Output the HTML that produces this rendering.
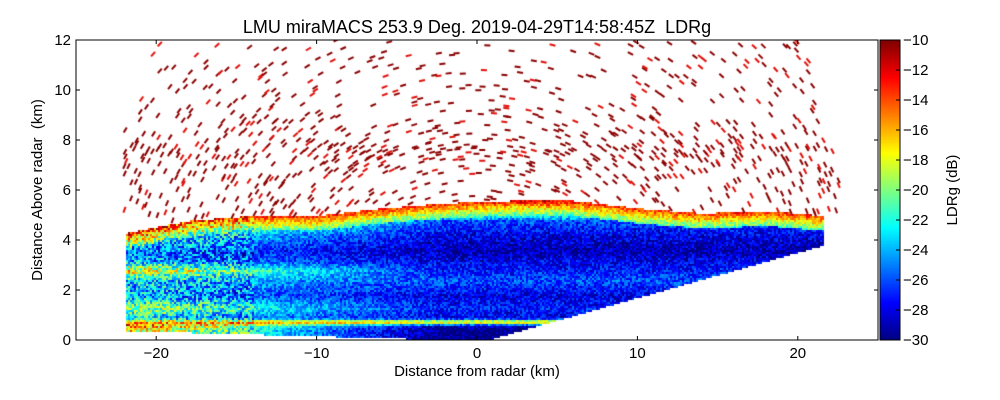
<!DOCTYPE html>
<html><head><meta charset="utf-8"><style>
body{margin:0;background:#fff;}
#wrap{position:relative;width:1000px;height:400px;font-family:"Liberation Sans",sans-serif;}
canvas{position:absolute;left:0;top:0;}
svg{position:absolute;left:0;top:0;}
</style></head><body>
<div id="wrap">
<canvas id="cv" width="1000" height="400"></canvas>
<svg id="sv" width="1000" height="400"></svg>
</div>
<script>
// data arrays
const xTicks=[-20,-10,0,10,20];
const yTicks=[0,2,4,6,8,10,12];
const cbTicks=[-10,-12,-14,-16,-18,-20,-22,-24,-26,-28,-30];
const bandHeights=[0,0.45,0.6,0.75,0.9,1.3,1.8,2.4,2.8,3.2,3.6,4.2,4.8,5.6];
const bandLdrLeft=[-17,-17,-14,-15,-23,-19,-24,-23,-17,-24,-25,-21,-14,-12];
const bandLdrRight=[-30,-30,-29,-15,-28,-27,-28,-26,-27,-28,-29,-28,-26,-12];
const topX=[-22,-18,-14,-10,-6,-2,2,6,10,14,18,21.6];
const topY=[4.3,4.8,5.0,5.0,5.3,5.5,5.6,5.6,5.3,5.1,5.2,5.0];
const speckleDensityY=[5,6,7,7.5,8,9,10,12];
const speckleDensity=[0.3,0.2,0.3,0.55,0.3,0.18,0.15,0.13];

const L=76,R=878,T=40,B=340;
const X=v=>L+(v+25)/50*(R-L);
const Y=v=>B-v/12*(B-T);
const Xi=p=>(p-L)/(R-L)*50-25;
const Yi=p=>(B-p)/(B-T)*12;
function interp(xs,ys,x){if(x<=xs[0])return ys[0];for(let i=1;i<xs.length;i++){if(x<=xs[i]){const f=(x-xs[i-1])/(xs[i]-xs[i-1]);return ys[i-1]+f*(ys[i]-ys[i-1]);}}return ys[ys.length-1];}
function jet(v){let t=(v+30)/20;t=Math.max(0,Math.min(1,t));
 const c=x=>Math.max(0,Math.min(1,x));
 const r=c(1.5-Math.abs(4*t-3)),g=c(1.5-Math.abs(4*t-2)),b=c(1.5-Math.abs(4*t-1));
 return `rgb(${r*255|0},${g*255|0},${b*255|0})`;}
function hash(a,b){let h=(a*374761393+b*668265263)|0;h=(h^(h>>>13))*1274126177|0;return ((h^(h>>>16))>>>0)/4294967296;}

const cv=document.getElementById('cv'),ctx=cv.getContext('2d');
for(let px=L;px<R;px+=2){
 const x=Xi(px);
 if(x<-22||x>21.6)continue;
 const top=interp(topX,topY,x);
 let bot=x<0?Math.max(0,-x*0.018):(x-0.5)*0.181;
 for(let py=T;py<B;py+=2){
  const y=Yi(py);
  if(y<bot||y>top)continue;
  const f=(x+22)/43.6;
  const bl=interp(bandHeights,bandLdrLeft,y),br=interp(bandHeights,bandLdrRight,y);
  let v=bl+(br-bl)*Math.min(1,f*2.2);
  if(top-y<0.6)v=Math.max(v,-13-(top-y)*14);
  const n=hash(px,py);
  v+=(n-0.5)*(x<-14?8:4);
  ctx.fillStyle=jet(v);ctx.fillRect(px,py,2,2);
 }
}
// speckles above cloud (tangential dashes)
ctx.lineWidth=2;
for(let i=0;i<130;i++)for(let j=0;j<40;j++){
 const x=-24+i*0.37+hash(i,j+99)*0.3,y=4.5+j*0.2+hash(j,i+7)*0.18;
 if(y>12||Math.hypot(x,y)>23.5||x<-22)continue;
 if(y<interp(topX,topY,x))continue;
 if(hash(i*3+1,j*5+2)>interp(speckleDensityY,speckleDensity,y))continue;
 ctx.strokeStyle=hash(i,j)<0.8?'#8b0000':'#e0100a';
 const px=X(x),py=Y(y);const a=Math.atan2(Y(y)-Y(0),X(x)-X(0))+Math.PI/2;
 ctx.beginPath();ctx.moveTo(px-Math.cos(a)*3,py-Math.sin(a)*3);ctx.lineTo(px+Math.cos(a)*3,py+Math.sin(a)*3);ctx.stroke();
}
ctx.clearRect(0,0,L,400);ctx.clearRect(R,0,200,400);ctx.clearRect(0,0,1000,T);ctx.clearRect(0,B,1000,100);

for(let py=40;py<340;py++){ctx.fillStyle=jet(-10-(py-40)/300*20);ctx.fillRect(880,py,20,1);}

const sv=document.getElementById('sv');const NS='http://www.w3.org/2000/svg';
function el(tag,attrs,txt){const e=document.createElementNS(NS,tag);for(const k in attrs)e.setAttribute(k,attrs[k]);if(txt!==undefined)e.textContent=txt;sv.appendChild(e);return e;}
let e;
e=el('rect',{x:L,y:T,width:R-L,height:B-T,fill:'none',stroke:'#000','stroke-width':1});

e=el('rect',{x:880,y:40,width:20,height:300,fill:'none',stroke:'#000','stroke-width':1});

xTicks.forEach(t=>{const x=X(t);
 el('line',{x1:x,x2:x,y1:B,y2:B-4,stroke:'#000'});el('line',{x1:x,x2:x,y1:T,y2:T+4,stroke:'#000'});
 e=el('text',{x:x,y:B+18,'text-anchor':'middle','font-size':15},(t<0?'\u2212':'')+Math.abs(t));
 });
yTicks.forEach(t=>{const y=Y(t);
 el('line',{x1:L,x2:L+4,y1:y,y2:y,stroke:'#000'});el('line',{x1:R,x2:R-4,y1:y,y2:y,stroke:'#000'});
 e=el('text',{x:L-5,y:y+5,'text-anchor':'end','font-size':15},t);
 });
cbTicks.forEach(t=>{const y=40+(-10-t)/20*300;
 el('line',{x1:900,x2:896,y1:y,y2:y,stroke:'#000'});
 e=el('text',{x:903,y:y+5,'font-size':15},'\u2212'+Math.abs(t));
 });
e=el('text',{x:477,y:33,'text-anchor':'middle','font-size':18},'LMU miraMACS 253.9 Deg. 2019-04-29T14:58:45Z\u00a0\u00a0LDRg');

e=el('text',{x:477,y:376,'text-anchor':'middle','font-size':15},'Distance from radar (km)');

e=el('text',{x:42,y:190,'text-anchor':'middle','font-size':15,transform:'rotate(-90 42 190)'},'Distance Above radar\u00a0\u00a0(km)');

e=el('text',{x:957,y:190,'text-anchor':'middle','font-size':15,transform:'rotate(-90 957 190)'},'LDRg (dB)');

</script>
</body></html>
